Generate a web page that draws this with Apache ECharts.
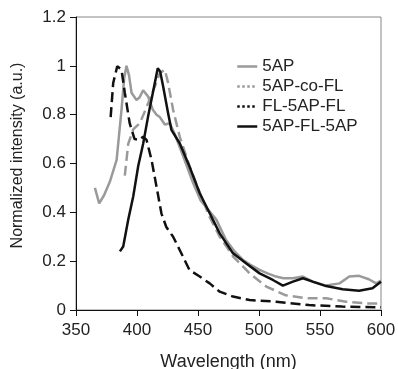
<!DOCTYPE html>
<html><head><meta charset="utf-8">
<script src="https://cdn.jsdelivr.net/npm/echarts@6/dist/echarts.min.js"></script>
<style>html,body{margin:0;padding:0;background:#fff}#c{width:398px;height:369px}</style>
</head><body><div id="c"></div>
<script>
const xTicks = [350, 400, 450, 500, 550, 600];
const yTicks = [0, 0.2, 0.4, 0.6, 0.8, 1, 1.2];
const seriesNames = ['5AP', '5AP-co-FL', 'FL-5AP-FL', '5AP-FL-5AP'];

const s5AP = [[365.5,0.50],[369,0.437],[373,0.47],[377.8,0.526],[383.3,0.615],[387.3,0.82],[389.5,0.95],[391.4,1.0],[393.5,0.96],[395.5,0.89],[399.6,0.86],[402,0.87],[405,0.90],[409,0.875],[413,0.82],[416,0.80],[418.7,0.79],[422.8,0.76],[426.9,0.765],[431,0.72],[437.8,0.63],[446,0.52],[452,0.45],[456.9,0.42],[465,0.37],[473,0.287],[480,0.24],[486.9,0.205],[493,0.185],[500.5,0.164],[507,0.15],[514,0.137],[520,0.13],[527.8,0.13],[536,0.137],[544,0.116],[555,0.10],[566,0.109],[574,0.137],[582,0.14],[590,0.126],[596,0.109],[600,0.12]];
const s5APcoFL = [[390,0.55],[392.8,0.68],[396.9,0.74],[402.3,0.765],[407.8,0.83],[414.6,0.915],[418.7,0.97],[422.8,0.984],[425.5,0.93],[429.6,0.82],[435,0.71],[443,0.59],[451.4,0.48],[459.6,0.38],[467.8,0.30],[478.7,0.22],[492.3,0.15],[506,0.096],[522,0.06],[538.7,0.048],[555,0.048],[571.4,0.034],[587.7,0.027],[600,0.027]];
const sFL5APFL = [[378.4,0.79],[380.5,0.93],[383.8,0.998],[387.3,0.984],[390,0.89],[394,0.765],[398,0.70],[402.3,0.697],[405,0.71],[407.8,0.697],[411.9,0.615],[416,0.505],[420,0.396],[424,0.34],[429.6,0.30],[435,0.246],[443,0.164],[451.4,0.137],[459.6,0.109],[467.8,0.075],[478.7,0.055],[492.3,0.041],[514,0.034],[541,0.02],[568,0.014],[600,0.011]];
const s5APFL5AP = [[386,0.24],[388.7,0.26],[392.8,0.37],[396.9,0.465],[401,0.59],[405,0.68],[409,0.79],[413,0.89],[417,0.99],[419,0.977],[421.4,0.916],[425.5,0.806],[428.2,0.738],[435,0.683],[443,0.588],[451.4,0.478],[459.6,0.396],[467.8,0.314],[478.7,0.232],[489.6,0.19],[500.5,0.15],[511.4,0.123],[519.6,0.10],[527.8,0.116],[536,0.13],[544,0.116],[555,0.098],[568.6,0.085],[582,0.079],[593,0.089],[600,0.116]];

const GRAY = '#9a9a9a', BLACK = '#111';
const font = 'Liberation Sans, Arial, sans-serif';
const chart = echarts.init(document.getElementById('c'));
function mk(name, data, color, type) {
  return { name, type: 'line', data, symbol: 'none', smooth: false,
    lineStyle: { color, width: 2.5, type }, itemStyle: { color }, z: 3 };
}
chart.setOption({
  animation: false,
  backgroundColor: '#fff',
  grid: { left: 76, right: 17, top: 17, bottom: 59, show: true, borderColor: '#888', borderWidth: 1,
    containLabel: false, outerBoundsMode: 'none' },
  legend: {
    left: 236, top: 58, orient: 'vertical', padding: 0, itemGap: 3, itemWidth: 20, itemHeight: 14,
    textStyle: { fontFamily: font, fontSize: 17, color: '#222' },
    itemStyle: { opacity: 0 },
    data: [
      { name: seriesNames[0], lineStyle: { type: 'solid', color: GRAY, width: 2.5 } },
      { name: seriesNames[1], lineStyle: { type: 'dotted', color: GRAY, width: 2.5 } },
      { name: seriesNames[2], lineStyle: { type: 'dotted', color: BLACK, width: 2.5 } },
      { name: seriesNames[3], lineStyle: { type: 'solid', color: BLACK, width: 2.5 } }
    ]
  },
  xAxis: {
    type: 'value', min: xTicks[0], max: xTicks[xTicks.length - 1], interval: 50,
    name: 'Wavelength (nm)', nameLocation: 'middle', nameGap: 43,
    nameTextStyle: { fontFamily: font, fontSize: 18, color: '#222' },
    axisLine: { lineStyle: { color: '#111', width: 1 } },
    axisTick: { length: 6, lineStyle: { color: '#111' } },
    axisLabel: { fontFamily: font, fontSize: 17, color: '#222', margin: 12 },
    splitLine: { show: false }
  },
  yAxis: {
    type: 'value', min: yTicks[0], max: yTicks[yTicks.length - 1], interval: 0.2,
    name: 'Normalized intensity (a.u.)', nameLocation: 'middle', nameGap: 50,
    nameTextStyle: { fontFamily: font, fontSize: 16, color: '#222', padding: [0, 0, 0, 16] },
    axisLine: { show: true, lineStyle: { color: '#111', width: 1 } },
    axisTick: { show: true, length: 6, lineStyle: { color: '#111' } },
    axisLabel: { fontFamily: font, fontSize: 17, color: '#222', margin: 10,
      formatter: v => String(Math.round(v * 10) / 10) },
    splitLine: { show: false }
  },
  series: [
    mk(seriesNames[0], s5AP, GRAY, 'solid'),
    mk(seriesNames[1], s5APcoFL, GRAY, 'dashed'),
    mk(seriesNames[2], sFL5APFL, BLACK, 'dashed'),
    mk(seriesNames[3], s5APFL5AP, BLACK, 'solid')
  ]
});
</script></body></html>
